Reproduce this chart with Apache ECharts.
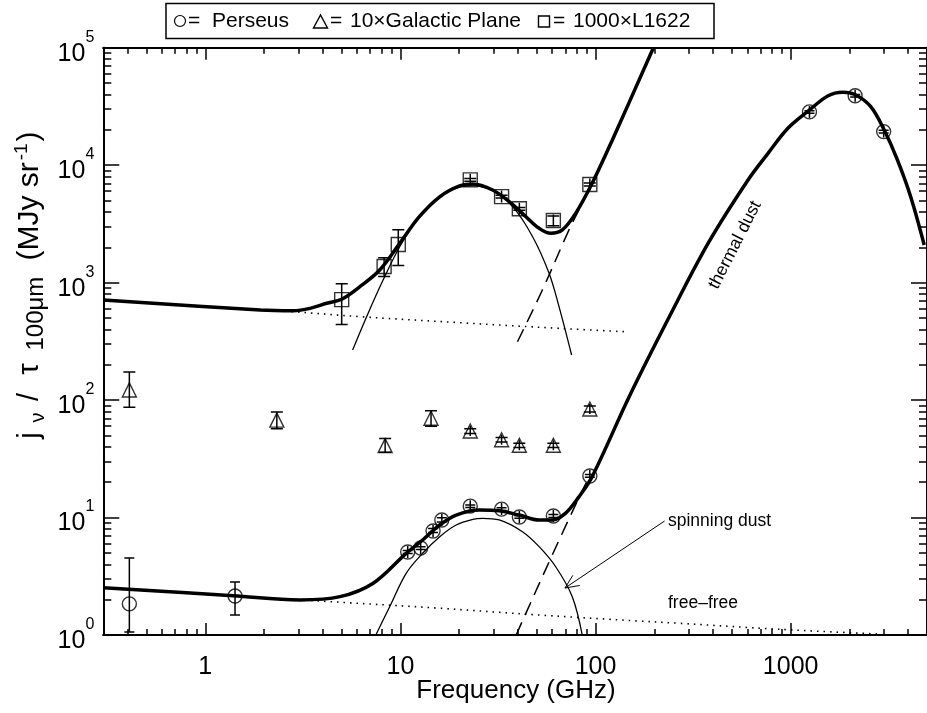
<!DOCTYPE html>
<html><head><meta charset="utf-8">
<script src="https://cdn.jsdelivr.net/npm/echarts@6/dist/echarts.min.js"></script>
<style>html,body{margin:0;padding:0;background:#fff}#c{width:927px;height:713px}</style>
</head><body><div id="c"></div>
<script>
// ---------- tick values ----------
const xMajorTicks = [1, 10, 100, 1000];
const xMinorTicks = [0.4,0.5,0.6,0.7,0.8,0.9,2,3,4,5,6,7,8,9,20,30,40,50,60,70,80,90,200,300,400,500,600,700,800,900,2000,3000,4000];
const yMajorTicks = [1, 10, 100, 1000, 10000, 100000];
const yMinorTicks = [2,3,4,5,6,7,8,9,20,30,40,50,60,70,80,90,200,300,400,500,600,700,800,900,2000,3000,4000,5000,6000,7000,8000,9000,20000,30000,40000,50000,60000,70000,80000,90000];

// ---------- Perseus (circles) ----------
const perseusFreq = [0.408, 1.42, 10.9, 12.7, 14.7, 16.3, 22.8, 33.0, 40.7, 60.8, 93.5, 1249, 2141, 2998];
const perseusVal  = [1.84, 2.15, 5.09, 5.5, 7.68, 9.53, 12.5, 11.8, 10.1, 10.3, 22.6, 28400, 39000, 19300];
const perseusLo   = [1.06, 1.48, 4.95, 5.35, 7.45, 9.15, 12.2, 11.5, 9.85, 10.0, 22.0, 27700, 38000, 18800];
const perseusHi   = [4.52, 2.83, 5.25, 5.65, 8.05, 9.95, 12.8, 12.1, 10.35, 10.6, 23.2, 29100, 40000, 19800];

// ---------- Galactic plane x10 (triangles) ----------
const galFreq = [0.408, 2.326, 8.35, 14.35, 22.8, 33.0, 40.7, 60.8, 93.5];
const galVal  = [122, 67.5, 41, 70, 54.6, 45.9, 41.3, 41.3, 84];
const galLo   = [87, 57, 36, 60, 52, 44, 39.5, 39.5, 79];
const galHi   = [173, 79, 47, 81, 57, 48, 43, 43, 89];

// ---------- L1622 x1000 (squares) ----------
const l1622Freq = [5.0, 8.25, 9.75, 22.8, 33.0, 40.7, 60.8, 93.5];
const l1622Val  = [716, 1373, 2113, 7500, 5400, 4250, 3380, 6840];
const l1622Lo   = [441, 1130, 1400, 7300, 5250, 4130, 3050, 6650];
const l1622Hi   = [980, 1630, 2820, 7700, 5550, 4370, 3700, 7040];

// ---------- model curves ----------
const perseusTotal = [[0.3,2.53],[1.39,2.16],[3.06,1.99],[4.9,2.12],[7.25,2.76],[10.7,4.96],[13.0,6.44],[15.9,8.64],[19.3,10.5],[25.4,11.6],[32.1,11.4],[40.6,10.5],[51.4,9.53],[60.1,9.53],[70.3,10.9],[82.2,15.0],[96.1,22.3],[150,110],[240,520],[380,2200],[605,7480],[766,12600],[968,20600],[1250,29500],[1550,38800],[1850,41700],[2145,39800],[2575,31500],[3017,19900],[3526,11100],[4124,5390],[4840,2090]];
const perseusSpin = [[7.48,1.0],[8.81,1.74],[10.7,3.35],[13.0,4.96],[15.9,6.87],[19.3,8.64],[23.5,9.66],[26.4,9.85],[32.1,9.53],[42.2,7.57],[51.4,5.65],[62.5,3.81],[76.0,2.12],[85.5,1.0]];
const perseusDust = [[39.2,1.0],[89.3,19.6],[96.1,21.0]];
const perseusFF = [[0.3,2.5],[4.92,1.9],[15.9,1.69],[51.4,1.48],[160,1.32],[266,1.26],[861,1.12],[2786,1.02]];

const l1622Total = [[0.3,711],[1.91,585],[2.83,577],[3.44,604],[4.19,667],[5.0,721],[6.2,923],[7.83,1280],[9.92,2160],[12.5,3640],[15.9,5380],[20.1,6650],[23.5,6920],[29.7,6150],[36.1,4890],[44.0,3640],[51.4,2900],[58.9,2630],[67.6,2810],[79.1,3890],[96.1,7010],[122,16400],[198,100000]];
const l1622Spin = [[5.69,267],[6.71,513],[8.15,1052],[9.92,2020],[12.5,3640],[15.9,5380],[20.1,6490],[23.5,6650],[29.7,6060],[37.6,4430],[47.6,2460],[57.8,1200],[65.0,624],[75.4,242]];
const l1622Dust = [[39.8,314],[53.4,865],[73.1,2810],[83.8,4430],[92,6000]];
const l1622FF = [[0.3,711],[2.83,565],[6.2,513],[20.1,456],[65.0,408],[142,382]];

// arrow annotation (tail -> head), data coordinates
const arrowPts = [[226, 9.35], [69.7, 2.51]];

const FONT = '"Liberation Sans", Arial, sans-serif';

const chart = echarts.init(document.getElementById('c'), null, {renderer: 'canvas'});

const G = {left: 103.3, top: 47.7, width: 826.4, height: 587.3};

function supLabel(v) {
  const e = Math.round(Math.log10(v));
  return '{b|10}{s|' + e + '}';
}

function xAxisDef(pos, ticks, len, labels) {
  return {
    type: 'log', logBase: 10, min: 0.3, max: 5000, position: pos, gridIndex: 0,
    axisLine: {show: true, onZero: false, lineStyle: {color: '#000', width: 1.8}},
    axisTick: {show: true, inside: true, length: len, customValues: ticks, lineStyle: {color: '#000', width: 1.5}},
    axisLabel: labels ? {show: true, customValues: xMajorTicks, margin: 20, fontFamily: FONT, fontSize: 25, color: '#000',
      formatter: v => String(Math.round(v))} : {show: false},
    splitLine: {show: false}, minorTick: {show: false}
  };
}
function yAxisDef(pos, ticks, len, labels) {
  return {
    type: 'log', logBase: 10, min: 1, max: 100000, position: pos, gridIndex: 0,
    axisLine: {show: true, onZero: false, lineStyle: {color: '#000', width: 1.8}},
    axisTick: {show: true, inside: true, length: len, customValues: ticks, lineStyle: {color: '#000', width: 1.5}},
    axisLabel: labels ? {show: true, customValues: yMajorTicks, margin: 9, formatter: supLabel,
      rich: {b: {fontFamily: FONT, fontSize: 25, color: '#000', padding: [12,0,0,0]}, s: {fontFamily: FONT, fontSize: 16, color: '#000', verticalAlign: 'top'}}} : {show: false},
    splitLine: {show: false}, minorTick: {show: false}
  };
}

// error bars; the vertical stroke always runs through the whole symbol (as in the original plot)
function errSeries(freq, val, lo, hi, capW, half) {
  return {
    type: 'custom', xAxisIndex: 0, yAxisIndex: 0, silent: true, z: 6, clip: true,
    data: freq.map((f, i) => [f, val[i], lo[i], hi[i]]),
    encode: {x: 0, y: [1, 2, 3]},
    renderItem: function (params, api) {
      const x = api.value(0);
      const c = api.coord([x, api.value(1)]);
      const a = api.coord([x, api.value(2)]);
      const b = api.coord([x, api.value(3)]);
      const w = capW / 2;
      const st = {stroke: '#000', lineWidth: 1.5};
      const y1 = Math.max(a[1], c[1] + half), y2 = Math.min(b[1], c[1] - half);
      return {type: 'group', children: [
        {type: 'line', shape: {x1: c[0], y1: y1, x2: c[0], y2: y2}, style: st},
        {type: 'line', shape: {x1: a[0] - w, y1: a[1], x2: a[0] + w, y2: a[1]}, style: st},
        {type: 'line', shape: {x1: b[0] - w, y1: b[1], x2: b[0] + w, y2: b[1]}, style: st}
      ]};
    }
  };
}
function pts(freq, val, symbol, size) {
  return {
    type: 'scatter', xAxisIndex: 0, yAxisIndex: 0, symbol: symbol, symbolSize: size, z: 7, silent: true,
    itemStyle: {color: 'rgba(0,0,0,0)', borderColor: '#000', borderWidth: 1.4},
    data: freq.map((f, i) => [f, val[i]])
  };
}
function curve(data, width, type) {
  return {
    type: 'line', xAxisIndex: 0, yAxisIndex: 0, data: data, smooth: 0.35, showSymbol: false, symbol: 'none',
    silent: true, clip: true, z: 3,
    lineStyle: {color: '#000', width: width, type: type || 'solid'}
  };
}
const arrowSeries = {
  type: 'custom', xAxisIndex: 0, yAxisIndex: 0, silent: true, z: 8, clip: false,
  data: [[arrowPts[0][0], arrowPts[0][1], arrowPts[1][0], arrowPts[1][1]]],
  encode: {x: [0, 2], y: [1, 3]},
  renderItem: function (params, api) {
    const a = api.coord([api.value(0), api.value(1)]);
    const b = api.coord([api.value(2), api.value(3)]);
    const ang = Math.atan2(a[1] - b[1], a[0] - b[0]);
    const L = 15, spread = 0.42;
    const p1 = [b[0] + L * Math.cos(ang + spread), b[1] + L * Math.sin(ang + spread)];
    const p2 = [b[0] + L * Math.cos(ang - spread), b[1] + L * Math.sin(ang - spread)];
    const st = {stroke: '#000', lineWidth: 1, fill: null};
    return {type: 'group', children: [
      {type: 'line', shape: {x1: a[0], y1: a[1], x2: b[0], y2: b[1]}, style: st},
      {type: 'polyline', shape: {points: [p1, b, p2]}, style: st}
    ]};
  }
};

const M = {fill: '#000', lineHeight: 36, verticalAlign: 'middle'};
const yTitleRich = {
  j:  Object.assign({font: '29px ' + FONT, width: 22, align: 'center'}, M),
  n:  Object.assign({}, M, {font: '20px ' + FONT, width: 14, align: 'center', lineHeight: 20, verticalAlign: 'bottom'}),
  sl: Object.assign({font: '29px ' + FONT, width: 27, align: 'center'}, M),
  t:  Object.assign({font: '29px ' + FONT, width: 29, align: 'center'}, M),
  h:  Object.assign({}, M, {font: '24px ' + FONT, width: 82, align: 'center', lineHeight: 24, verticalAlign: 'bottom'}),
  sp: Object.assign({font: '29px ' + FONT, width: 12}, M),
  m:  Object.assign({font: '30px ' + FONT}, M),
  e:  Object.assign({}, M, {font: '19px ' + FONT, lineHeight: 19, verticalAlign: 'top', padding: [0, 2, 0, 2]})
};

const option = {
  backgroundColor: '#fff',
  animation: false,
  grid: G,
  xAxis: [
    xAxisDef('bottom', xMajorTicks, 12, true),
    xAxisDef('bottom', xMinorTicks, 6, false),
    xAxisDef('top', xMajorTicks, 12, false),
    xAxisDef('top', xMinorTicks, 6, false)
  ],
  yAxis: [
    yAxisDef('left', yMajorTicks, 16, true),
    yAxisDef('left', yMinorTicks, 8, false),
    yAxisDef('right', yMajorTicks, 16, false),
    yAxisDef('right', yMinorTicks, 8, false)
  ],
  series: [
    curve(perseusFF, 1.6, [1.5, 5]),
    curve(l1622FF, 1.6, [1.5, 5]),
    curve(perseusDust, 1.5, [14, 8]),
    curve(l1622Dust, 1.5, [14, 8]),
    curve(perseusSpin, 1.3),
    curve(l1622Spin, 1.3),
    curve(perseusTotal, 3.5),
    curve(l1622Total, 3.5),
    errSeries(perseusFreq, perseusVal, perseusLo, perseusHi, 10, 6),
    errSeries(galFreq, galVal, galLo, galHi, 12, 5),
    errSeries(l1622Freq, l1622Val, l1622Lo, l1622Hi, 12, 6),
    pts(perseusFreq, perseusVal, 'circle', 14),
    pts(galFreq, galVal, 'triangle', 14),
    pts(l1622Freq, l1622Val, 'rect', 14),
    arrowSeries
  ],
  graphic: [
    {type: 'rect', shape: {x: 166, y: 3.5, width: 548, height: 35}, style: {fill: '#fff', stroke: '#000', lineWidth: 1.5}, z: 10},
    {type: 'circle', shape: {cx: 180, cy: 21, r: 5.5}, style: {fill: null, stroke: '#000', lineWidth: 1.2}, z: 11},
    {type: 'text', x: 188, y: 21, style: {text: '=', font: '21px ' + FONT, fill: '#000', verticalAlign: 'middle'}, z: 11},
    {type: 'text', x: 212, y: 21, style: {text: 'Perseus', font: '21px ' + FONT, fill: '#000', verticalAlign: 'middle'}, z: 11},
    {type: 'polygon', shape: {points: [[313.5, 28], [327.5, 28], [320.5, 15]]}, style: {fill: null, stroke: '#000', lineWidth: 1.4}, z: 11},
    {type: 'text', x: 330, y: 21, style: {text: '=', font: '21px ' + FONT, fill: '#000', verticalAlign: 'middle'}, z: 11},
    {type: 'text', x: 350, y: 21, style: {text: '10×Galactic Plane', font: '21px ' + FONT, fill: '#000', verticalAlign: 'middle'}, z: 11},
    {type: 'rect', shape: {x: 538.5, y: 16, width: 11, height: 11}, style: {fill: null, stroke: '#000', lineWidth: 1.4}, z: 11},
    {type: 'text', x: 553, y: 21, style: {text: '=', font: '21px ' + FONT, fill: '#000', verticalAlign: 'middle'}, z: 11},
    {type: 'text', x: 573, y: 21, style: {text: '1000×L1622', font: '21px ' + FONT, fill: '#000', verticalAlign: 'middle'}, z: 11},
    {type: 'text', x: 516, y: 691, style: {text: 'Frequency (GHz)', font: '26px ' + FONT, fill: '#000', align: 'center', verticalAlign: 'middle'}, z: 11},
    {type: 'text', x: 30, y: 289, rotation: Math.PI / 2,
      style: {text: '{j|j}{n|ν}{sl|/}{t|τ}{h|100μm}{sp| }{m|(MJy sr}{e|-1}{m|)}', font: '29px ' + FONT, fill: '#000', align: 'center', verticalAlign: 'middle',
        rich: yTitleRich}, z: 11},
    {type: 'text', x: 735, y: 245, rotation: 63 * Math.PI / 180,
      style: {text: 'thermal dust', font: '17.5px ' + FONT, fill: '#000', align: 'center', verticalAlign: 'middle'}, z: 11},
    {type: 'text', x: 668, y: 521, style: {text: 'spinning dust', font: '17.5px ' + FONT, fill: '#000', verticalAlign: 'middle'}, z: 11},
    {type: 'text', x: 668, y: 603, style: {text: 'free–free', font: '17.5px ' + FONT, fill: '#000', verticalAlign: 'middle'}, z: 11}
  ]
};
chart.setOption(option);
</script>
</body></html>
